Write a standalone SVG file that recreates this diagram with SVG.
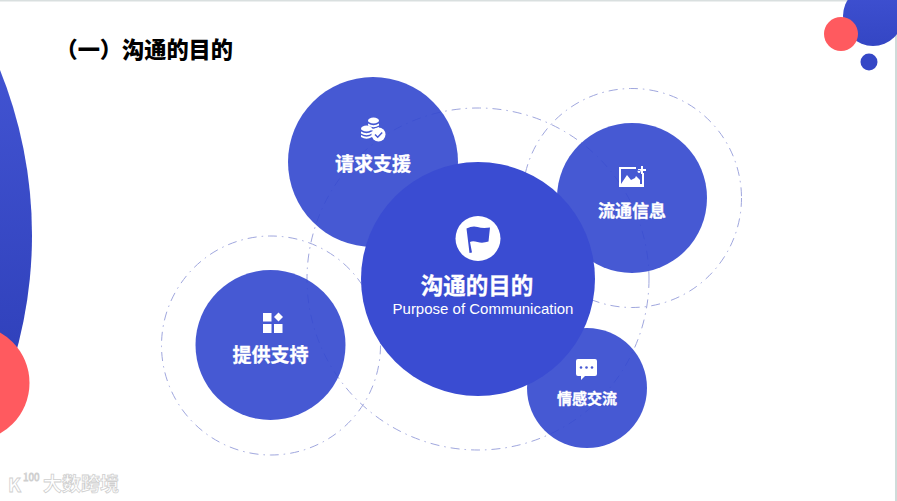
<svg xmlns="http://www.w3.org/2000/svg" width="897" height="501" viewBox="0 0 897 501">
<style>
.ring{fill:none;stroke:#a0a7de;stroke-width:1;stroke-dasharray:9 5 1.5 5}
.node{fill:#3448cf;fill-opacity:.91}
.cjk{font-family:"Noto Sans CJK SC","Liberation Sans",sans-serif;font-weight:700;fill:#fff;stroke:#fff;stroke-width:.3;text-anchor:middle}
.ico{fill:#fff}
.red{fill:#ff5a5f}
</style>
<defs>
<linearGradient id="gLeft" x1="0" y1="0" x2="0" y2="1"><stop offset="0.15" stop-color="#4a5cdc"/><stop offset="0.75" stop-color="#2a3bb4"/></linearGradient>
<linearGradient id="gTop" x1="0" y1="0" x2="0" y2="1"><stop offset="0" stop-color="#3f51d2"/><stop offset="1" stop-color="#3446c4"/></linearGradient>
</defs>
<rect width="897" height="501" fill="#fff"/>
<rect width="897" height="1.5" fill="#d9dfdf"/>
<rect x="895" width="2" height="501" fill="#cfdcda"/>
<g id="decor">
<circle cx="-409" cy="235" r="441" fill="url(#gLeft)"/>
<circle cx="-28.500" cy="383" r="58" class="red"/>
<circle cx="873" cy="16" r="30" fill="url(#gTop)"/>
<circle cx="841" cy="34" r="17" class="red"/>
<circle cx="869" cy="62" r="8.500" fill="#3547c6"/>
</g>
<g id="connectors">
<circle class="ring" cx="478" cy="279" r="171"/>
<circle class="ring" cx="632" cy="198" r="109.500"/>
<circle class="ring" cx="271" cy="345.500" r="109.500"/>
</g>
<g id="node-support">
<circle class="node" cx="373" cy="162" r="85"/>
<g class="ico">
<ellipse cx="373.500" cy="120.500" rx="5.500" ry="3"/><path d="M368 123.500q5.500 3.500 11 0v2q-5.500 3.500-11 0zM368 127q5.500 3.500 11 0v2q-5.500 3.500-11 0z"/>
<ellipse cx="366.500" cy="128.500" rx="5.500" ry="3"/><path d="M361 131.500q5.500 3.500 11 0v2q-5.500 3.500-11 0zM361 135q5.500 3.500 11 0v2q-5.500 3.500-11 0z"/>
<circle cx="378.500" cy="134.500" r="7"/>
</g>
<path d="M375 134.500l2.700 2.700 4.500-4.700" fill="none" stroke="#4759d3" stroke-width="1.500"/>
<text class="cjk" x="373" y="171" font-size="19">请求支援</text>
</g>
<g id="node-info">
<circle class="node" cx="632" cy="198" r="75"/>
<path class="ico" fill-rule="evenodd" d="M619 167h17v2h-15v15h21v-11h2v14h-25z"/>
<path class="ico" d="M621 184l6-9 4 5 4-2 1-2 4 4v4zM639 170a1.500 1.500 0 1 0 .1 0zM641 166h2v3h3v2h-3v3h-2v-3h-3v-2h3z"/>
<text class="cjk" x="632" y="217" font-size="17">流通信息</text>
</g>
<g id="node-emotion">
<circle class="node" cx="587" cy="388" r="60"/>
<path class="ico" d="M578 359h17a2 2 0 0 1 2 2v13a2 2 0 0 1-2 2h-10l-4 4v-4h-3a2 2 0 0 1-2-2v-13a2 2 0 0 1 2-2z"/>
<g fill="#4759d3"><circle cx="581" cy="367.500" r="1.300"/><circle cx="586.500" cy="367.500" r="1.300"/><circle cx="592" cy="367.500" r="1.300"/></g>
<text class="cjk" x="587" y="403.500" font-size="15">情感交流</text>
</g>
<g id="node-provide">
<circle class="node" cx="270.500" cy="345" r="75"/>
<g class="ico">
<rect x="263" y="313" width="8.500" height="8.500"/><rect x="263" y="324" width="8.500" height="9"/><rect x="274" y="324" width="8.500" height="9"/>
<path d="M278.500 312.500l4.500 4.500-4.500 4.500-4.500-4.500z"/>
</g>
<text class="cjk" x="270.500" y="362" font-size="19">提供支持</text>
</g>
<g id="node-center">
<circle cx="478" cy="279" r="117" fill="#3a4cd2"/>
<circle cx="478" cy="238.500" r="22.500" class="ico"/>
<path fill="#3a4cd2" d="M466.500 228.500q6-3 11-1.500t12.500 .5l-1.500 14q-6 2-11 .5t-7.500 0l2 10.500-2.500 .5z"/>
<text class="cjk" x="477" y="294" font-size="22.500">沟通的目的</text>
<text x="483" y="314" font-size="15" text-anchor="middle" fill="#fff" font-family="'Liberation Sans',Arial,sans-serif">Purpose of Communication</text>
</g>
<g id="title">
<text x="55.500" y="58" font-size="22.200" font-weight="900" fill="#000" font-family="'Noto Sans CJK SC','Liberation Sans',sans-serif">（一）沟通的目的</text>
</g>
<g id="watermark" fill="#fff" stroke="#cfcfcf" stroke-width=".8" font-family="'Noto Sans CJK SC','Liberation Sans',sans-serif" font-weight="700">
<text x="8" y="492" font-size="19">K</text>
<text x="23" y="481" font-size="10" font-weight="400">100</text>
<text x="43" y="491" font-size="19">大数跨境</text>
</g>
</svg>
